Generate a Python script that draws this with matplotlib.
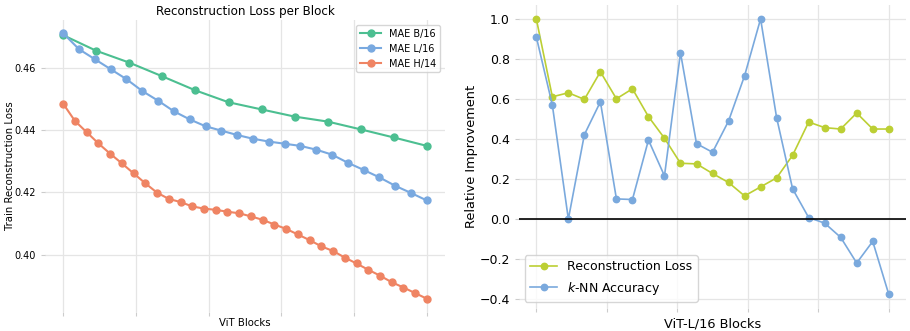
import matplotlib
matplotlib.use("Agg")
import matplotlib.pyplot as plt
import numpy as np

# Left panel: reconstruction loss per block
loss_b16 = [0.4704, 0.4654, 0.4616, 0.4572, 0.4527, 0.4489, 0.4466, 0.4443,
            0.4427, 0.4402, 0.4376, 0.4349]
loss_l16 = [0.4710, 0.4659, 0.4627, 0.4595, 0.4563, 0.4525, 0.4494, 0.4460,
            0.4434, 0.4412, 0.4398, 0.4384, 0.4372, 0.4363, 0.4356, 0.4349,
            0.4337, 0.4321, 0.4295, 0.4272, 0.4248, 0.4221, 0.4198, 0.4174]
loss_h14 = [0.4484, 0.4429, 0.4393, 0.4357, 0.4324, 0.4293, 0.4261, 0.4229,
            0.4199, 0.4179, 0.4169, 0.4155, 0.4148, 0.4144, 0.4138, 0.4133,
            0.4123, 0.4112, 0.4097, 0.4083, 0.4065, 0.4047, 0.4027, 0.4012,
            0.3991, 0.3972, 0.3952, 0.3933, 0.3912, 0.3895, 0.3877, 0.3859]
left_labels = ["MAE B/16", "MAE L/16", "MAE H/14"]

# Right panel: relative improvement per block (ViT-L/16)
rel_recon = [1.0, 0.611, 0.631, 0.598, 0.736, 0.601, 0.651, 0.512, 0.404,
             0.279, 0.276, 0.228, 0.183, 0.116, 0.161, 0.206, 0.319, 0.485,
             0.457, 0.450, 0.530, 0.450, 0.450]
rel_knn = [0.910, 0.570, 0.0, 0.422, 0.586, 0.101, 0.098, 0.395, 0.216,
           0.831, 0.377, 0.334, 0.490, 0.716, 1.0, 0.507, 0.151, 0.008,
           -0.020, -0.091, -0.219, -0.111, -0.375]
right_labels = ["Reconstruction Loss", "$k$-NN Accuracy"]

grid_col = "#e5e5e5"
tick_col = "#cccccc"

fig = plt.figure(figsize=(9.1, 3.31), dpi=100)
ax1 = fig.add_axes([0.0495, 0.0574, 0.4396, 0.882])
ax2 = fig.add_axes([0.570, 0.0695, 0.426, 0.915])

for ax in (ax1, ax2):
    for s in ax.spines.values():
        s.set_visible(False)
    ax.grid(True, color=grid_col, linewidth=0.9)
    ax.set_axisbelow(True)
    ax.set_xticks([0, 0.2, 0.4, 0.6, 0.8, 1.0])
    ax.set_xticklabels([])
    ax.tick_params(color=tick_col, length=3)

# Left panel
colors_left = ["#4cbf91", "#79a9e0", "#ef8463"]
for vals, lab, col in zip([loss_b16, loss_l16, loss_h14], left_labels,
                          colors_left):
    x = np.linspace(0, 1, len(vals))
    ax1.plot(x, vals, "-o", color=col, label=lab, markersize=5,
             linewidth=1.5)
ax1.set_yticks([0.40, 0.42, 0.44, 0.46])
ax1.tick_params(axis="y", labelsize=7)
ax1.set_title("Reconstruction Loss per Block", fontsize=8.6, pad=4)
ax1.set_ylabel("Train Reconstruction Loss", fontsize=7.3)
ax1.set_xlabel("ViT Blocks", fontsize=7.3)
ax1.yaxis.set_label_coords(-0.075, 0.5)
ax1.xaxis.set_label_coords(0.5, -0.022)
ax1.legend(loc="upper right", fontsize=7, handlelength=2.2)

# Right panel
x2 = np.linspace(0, 1, len(rel_recon))
ax2.plot(x2, rel_recon, "-o", color="#bccf34", label=right_labels[0],
         markersize=4.6, linewidth=1.2)
ax2.plot(x2, rel_knn, "-o", color="#7aa9dd", label=right_labels[1],
         markersize=4.6, linewidth=1.2)
ax2.axhline(0, color="black", linewidth=1.2)
ax2.set_yticks([-0.4, -0.2, 0.0, 0.2, 0.4, 0.6, 0.8, 1.0])
ax2.tick_params(axis="y", labelsize=9)
ax2.set_ylabel("Relative Improvement", fontsize=9.3)
ax2.set_xlabel("ViT-L/16 Blocks", fontsize=9.3)
ax2.yaxis.set_label_coords(-0.106, 0.5)
ax2.xaxis.set_label_coords(0.5, -0.03)
ax2.legend(loc="lower left", fontsize=9, handlelength=2.2)

fig.savefig("out.png", dpi=100)
